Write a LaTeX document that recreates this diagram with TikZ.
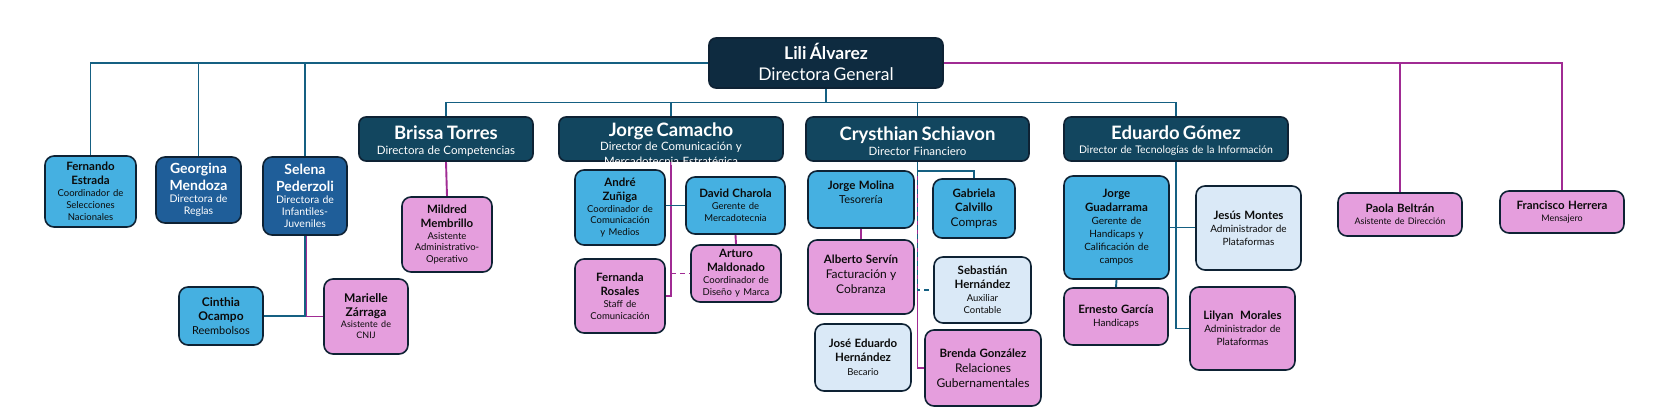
\documentclass[tikz,border=0pt]{standalone}
\usepackage{fontspec}
\setmainfont{Lato}
\definecolor{cnavy}{HTML}{0E2B40}
\definecolor{cteal}{HTML}{12465F}
\definecolor{cmid}{HTML}{1F5E99}
\definecolor{clight}{HTML}{45B0E1}
\definecolor{cpink}{HTML}{E59EDD}
\definecolor{cpale}{HTML}{DAE9F7}
\definecolor{cline}{HTML}{156082}
\definecolor{cmag}{HTML}{A02B93}
\definecolor{boxline}{HTML}{0E2234}
\definecolor{ink}{HTML}{0B0B0B}
\newcommand\fs[2]{\fontsize{#1}{#2}\selectfont}
\pgfdeclarelayer{bg}
\pgfsetlayers{bg,main}
\tikzset{
  box/.style={draw=boxline, line width=1.6pt, rounded corners=9pt, inner sep=0pt},
  bnavy/.style={box, fill=cnavy, rounded corners=7pt},
  bteal/.style={box, fill=cteal, rounded corners=7pt},
  bmid/.style={box, fill=cmid},
  blight/.style={box, fill=clight},
  bpink/.style={box, fill=cpink},
  bpale/.style={box, fill=cpale},
  txt/.style={inner sep=0pt, align=center},
  lineB/.style={draw=cline, line width=1.9pt},
  lineP/.style={draw=cmag, line width=1.9pt},
  dashline/.style={dash pattern=on 5pt off 4pt},
}
% #1 text yshift, #2 name, #3 cx, #4 cy, #5 w, #6 h, #7 box style, #8 text colour, #9 text
\newcommand\orgbox[9][0]{%
  \node[#7, minimum width=#5pt, minimum height=#6pt] (#2) at (#3,#4) {};
  \node[txt, text width=#5pt, text=#8, yshift=#1pt] (#2-t) at (#2.center) {#9};
}
\begin{document}
\begin{tikzpicture}[x=1pt,y=-1pt]
\useasboundingbox (0,0) rectangle (1656,417);
\begin{pgfonlayer}{bg}
\fill[white] (0,0) rectangle (1656,417);
\end{pgfonlayer}

% top
\orgbox[1]{lili}{826}{63}{234}{50}{bnavy}{white}{{\fs{17.5}{21}\bfseries Lili Álvarez\par}{\fs{17.5}{21}Directora General\par}}

% left staff
\orgbox{fern}{90.5}{191.5}{91}{71}{blight}{ink}{{\fs{11.5}{14}\bfseries Fernando\\Estrada\par}{\fs{9.5}{12}Coordinador de\\Selecciones\\Nacionales\par}}
\orgbox{geor}{198.5}{190}{85}{66}{bmid}{white}{{\fs{14}{17}\bfseries Georgina\\Mendoza\par}{\fs{10.5}{12}Directora de\\Reglas\par}}
\orgbox{sele}{305}{196}{84}{78}{bmid}{white}{{\fs{14}{17}\bfseries Selena\\Pederzoli\par}{\fs{10.5}{12}Directora de\\Infantiles-\\Juveniles\par}}
\orgbox{cint}{221}{316}{84}{58}{blight}{ink}{{\fs{12}{14}\bfseries Cinthia\\Ocampo\par}{\fs{11}{14}Reembolsos\par}}
\orgbox{mari}{366}{316.5}{84}{75}{bpink}{ink}{{\fs{12}{14}\bfseries Marielle\\Zárraga\par}{\fs{9}{11}Asistente de\\CNIJ\par}}

% directors
\orgbox[-2]{bris}{446}{139}{174}{44}{bteal}{white}{{\fs{18.5}{20}\bfseries Brissa Torres\par}{\fs{11.5}{15}Directora de Competencias\par}}
\orgbox[-6]{jcam}{671}{139}{224}{44}{bteal}{white}{{\fs{18.5}{20}\bfseries Jorge Camacho\par}{\fs{11.5}{14.5}Director de Comunicación y\\Mercadotecnia Estratégica\par}}
\orgbox[-2]{cry}{917.5}{139}{223}{44}{bteal}{white}{{\fs{18.5}{20}\bfseries Crysthian Schiavon\par}{\fs{11.5}{15}Director Financiero\par}}
\orgbox[-2]{edu}{1176}{139}{224}{44}{bteal}{white}{{\fs{18.5}{20}\bfseries Eduardo Gómez\par}{\fs{10.5}{14}Director de Tecnologías de la Información\par}}

% Brissa
\orgbox{mild}{447}{234.5}{90}{75}{bpink}{ink}{{\fs{11.5}{14}\bfseries Mildred\\Membrillo\par}{\fs{9.5}{11.7}Asistente\\Administrativo-\\Operativo\par}}

% Jorge Camacho
\orgbox{andre}{620}{207.5}{90}{75}{blight}{ink}{{\fs{11.5}{14}\bfseries André\\Zuñiga\par}{\fs{9.5}{11.7}Coordinador de\\Comunicación\\y Medios\par}}
\orgbox{david}{735.5}{205.5}{99}{57}{blight}{ink}{{\fs{11.5}{14}\bfseries David Charola\par}{\fs{9.5}{12}Gerente de\\Mercadotecnia\par}}
\orgbox{arturo}{736}{273.5}{90}{57}{bpink}{ink}{{\fs{11.5}{14}\bfseries Arturo\\Maldonado\par}{\fs{9.5}{12}Coordinador de\\Diseño y Marca\par}}
\orgbox{ferna}{620}{296}{90}{74}{bpink}{ink}{{\fs{11.5}{14}\bfseries Fernanda\\Rosales\par}{\fs{9.5}{12}Staff de\\Comunicación\par}}

% Crysthian
\orgbox[7]{jmol}{861}{199.5}{106}{57}{blight}{ink}{{\fs{11.5}{14}\bfseries Jorge Molina\par}{\fs{11}{14}Tesorería\par}}
\orgbox{gab}{974}{208.5}{82}{59}{blight}{ink}{{\fs{11.5}{14}\bfseries Gabriela\\Calvillo\par}{\fs{12}{15}Compras\par}}
\orgbox[3]{alb}{861}{277}{106}{74}{bpink}{ink}{{\fs{11.5}{14}\bfseries Alberto Servín\par}{\fs{12}{15}Facturación y\\Cobranza\par}}
\orgbox{seb}{982.5}{290}{97}{66}{bpale}{ink}{{\fs{11.5}{14}\bfseries Sebastián\\Hernández\par}{\fs{9.5}{12.5}Auxiliar\\Contable\par}}
\orgbox{jose}{863}{357.5}{96}{67}{bpale}{ink}{{\fs{11.5}{14}\bfseries José Eduardo\\Hernández\par}{\fs{9.5}{14}Becario\par}}
\orgbox{bren}{983}{368}{116}{76}{bpink}{ink}{{\fs{11.5}{14}\bfseries Brenda González\par}{\fs{12}{15}Relaciones\\Gubernamentales\par}}

% Eduardo
\orgbox{jgua}{1116.5}{227.5}{105}{103}{blight}{ink}{{\fs{11.5}{14}\bfseries Jorge\\Guadarrama\par}{\fs{10}{13}Gerente de\\Handicaps y\\Calificación de\\campos\par}}
\orgbox{jes}{1248.5}{228}{105}{84}{bpale}{ink}{{\fs{11.5}{14}\bfseries Jesús Montes\par}{\fs{10}{13}Administrador de\\Plataformas\par}}
\orgbox{ern}{1116}{316.5}{104}{57}{bpink}{ink}{{\fs{11.5}{14}\bfseries Ernesto García\par}{\fs{10}{13}Handicaps\par}}
\orgbox{lily}{1242.5}{328.5}{105}{83}{bpink}{ink}{{\fs{11.5}{14}\bfseries Lilyan\ \ Morales\par}{\fs{10}{13}Administrador de\\Plataformas\par}}

% right staff
\orgbox{pao}{1400}{214.5}{124}{43}{bpink}{ink}{{\fs{11.5}{14}\bfseries Paola Beltrán\par}{\fs{9}{12}Asistente de Dirección\par}}
\orgbox{fran}{1562}{212}{124}{42}{bpink}{ink}{{\fs{11.5}{14}\bfseries Francisco Herrera\par}{\fs{9}{12}Mensajero\par}}

\coordinate (bus) at (826,102.5);

\begin{pgfonlayer}{bg}
% from Lili
\draw[lineB] (lili.west) -| (fern.north);
\draw[lineB] (lili.west) -| (geor.north);
\draw[lineB] (lili.west) -| (sele.north);
\draw[lineP] (lili.east) -| (fran.north);
\draw[lineP] (lili.east) -| (pao.north);
\draw[lineB] (lili.south) -- (bus);
\draw[lineB] (bus) -| (bris.north);
\draw[lineB] (bus) -| (jcam.north);
\draw[lineB] (bus) -| (cry.north);
\draw[lineB] (bus) -| (edu.north);
% Selena
\draw[lineP] ([xshift=1.5pt]sele.south) |- (mari.west);
\draw[lineB] (sele.south) |- (cint.east);
% Brissa
\draw[lineP] (bris.south) -- (mild.north);
% Jorge Camacho
\draw[lineP] (jcam.south) |- (ferna.east);
\draw[lineP, dashline] (jcam.south |- arturo.west) -- (arturo.west);
\draw[lineB] (andre.east |- david.west) -- (david.west);
\draw[lineP] (david.south) -- (arturo.north);
% Crysthian
\draw[lineP] (cry.south) |- (bren.west);
\draw[lineB, dashline] (cry.south) -- (cry.south |- seb.west) -- (seb.west);
\draw[lineB] (cry.south) -- ++(0,9) -| (gab.north);
\draw[lineP] (jmol.south) -- (alb.north);
% Eduardo
\draw[lineB] (edu.south) |- (lily.west);
\draw[lineB] (jgua.east) -- (jgua.east -| jes.west);
\draw[lineB] (jgua.south) -- (ern.north);
\end{pgfonlayer}
\end{tikzpicture}
\end{document}
